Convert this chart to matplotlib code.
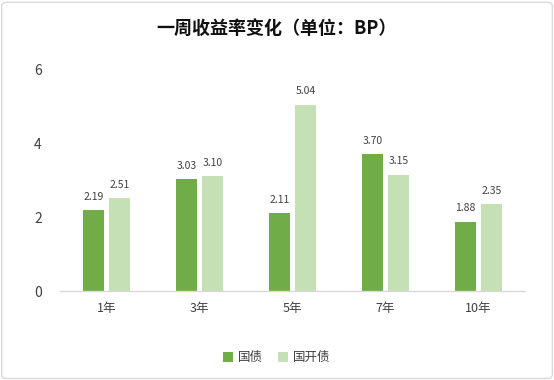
import matplotlib
matplotlib.use("Agg")
import matplotlib.pyplot as plt
from matplotlib.patches import FancyBboxPatch
import numpy as np

plt.rcParams['font.family'] = ['Noto Sans CJK SC', 'DejaVu Sans']

categories = ["1年", "3年", "5年", "7年", "10年"]
guozhai = [2.19, 3.03, 2.11, 3.70, 1.88]
guokai = [2.51, 3.10, 5.04, 3.15, 2.35]
series_names = ["国债", "国开债"]
yticks = [0, 2, 4, 6]

c1 = "#70AD47"
c2 = "#C5E0B4"

fig = plt.figure(figsize=(5.54, 3.8), dpi=100)
ax = fig.add_axes([0.108, 0.234, 0.840, 0.584])

x = np.arange(len(categories))
w = 0.226
off = 0.14
b1 = ax.bar(x - off, guozhai, w, color=c1, label=series_names[0])
b2 = ax.bar(x + off, guokai, w, color=c2, label=series_names[1])

for bars, vals in ((b1, guozhai), (b2, guokai)):
    for r, v in zip(bars, vals):
        ax.annotate(f"{v:.2f}", (r.get_x() + r.get_width() / 2, v),
                    xytext=(0, 6), textcoords="offset points",
                    ha="center", va="bottom", fontsize=7.5, color="#404040")

ax.set_xlim(-0.5, len(categories) - 0.5)
ax.set_ylim(0, 6)
ax.set_yticks(yticks)
ax.set_yticklabels([str(t) for t in yticks], fontsize=10, color="#404040")
ax.set_xticks(x)
ax.set_xticklabels(categories, fontsize=9, color="#404040")
ax.tick_params(axis="both", length=0)
ax.tick_params(axis="y", pad=13)
ax.tick_params(axis="x", pad=8)
for s in ("top", "right", "left"):
    ax.spines[s].set_visible(False)
ax.spines["bottom"].set_color("#D9D9D9")
ax.spines["bottom"].set_linewidth(1)

fig.text(0.5, 0.925, "一周收益率变化（单位：BP）", ha="center", va="center",
         fontsize=13, fontweight="bold", color="#111111")

fig.legend(handles=[b1, b2], labels=series_names, loc="center",
           bbox_to_anchor=(0.5, 0.058), ncol=2, frameon=False, fontsize=9,
           handlelength=0.8, handleheight=0.8, handletextpad=0.4,
           columnspacing=1.2, labelcolor="#404040")

border = FancyBboxPatch((0.003, 0.004), 0.994, 0.99, boxstyle="round,pad=0,rounding_size=0.01",
                        transform=fig.transFigure, fill=False, edgecolor="#D9D9D9", linewidth=1)
fig.patches.append(border)

fig.savefig("out.png", dpi=100)
